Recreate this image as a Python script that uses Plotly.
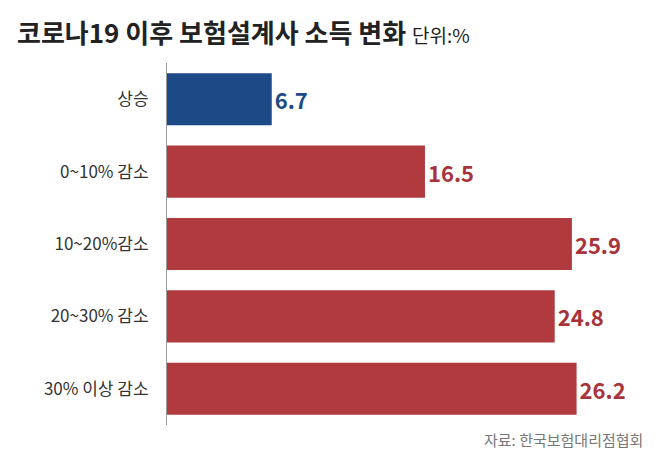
import plotly.graph_objects as go

categories = ["상승", "0~10% 감소", "10~20%감소", "20~30% 감소", "30% 이상 감소"]
values = [6.7, 16.5, 25.9, 24.8, 26.2]
colors = ["#1d4a86", "#b03a3e", "#b03a3e", "#b03a3e", "#b03a3e"]
label_colors = ["#1d4a86", "#a8333a", "#a8333a", "#a8333a", "#a8333a"]

font = "Noto Sans CJK KR"

fig = go.Figure(go.Bar(
    x=values, y=categories, orientation="h",
    marker=dict(color=colors, line=dict(width=0)),
    text=[f"<b>{v}</b>" for v in values], textposition="outside",
    textfont=dict(family=font, size=22, color=label_colors),
    cliponaxis=False,
))

fig.update_layout(
    width=658, height=467,
    margin=dict(l=159, r=30, t=55, b=50, autoexpand=False),
    paper_bgcolor="white", plot_bgcolor="white",
    bargap=0.28, showlegend=False,
    xaxis=dict(range=[0, 30], visible=False),
    yaxis=dict(autorange="reversed", showgrid=False, ticks="",
               showline=True, linecolor="#9a9a9a", linewidth=1,
               tickfont=dict(family=font, size=17, color="#333333"),
               ticklabelstandoff=14),
    font=dict(family=font),
)

fig.add_annotation(x=-0.325, y=1.145, xref="paper", yref="paper",
                   xanchor="left", yanchor="top", showarrow=False,
                   text="<b>코로나19 이후 보험설계사 소득 변화</b> <span style='font-size:19px'>단위:%</span>",
                   font=dict(family=font, size=26, color="#222222"))
fig.add_annotation(x=1.02, y=-0.075, xref="paper", yref="paper",
                   xanchor="right", yanchor="bottom", showarrow=False,
                   text="자료: 한국보험대리점협회",
                   font=dict(family=font, size=15, color="#777777"))

fig.write_html("out.html")
